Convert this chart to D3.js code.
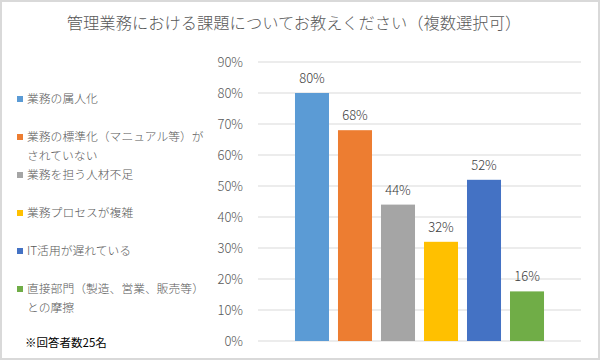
<!DOCTYPE html>
<html><head><meta charset="utf-8">
<script src="https://cdn.jsdelivr.net/npm/d3@7"></script>
<style>body{margin:0;background:#fff}svg{display:block}</style>
</head><body>
<svg id="c" width="600" height="360"></svg>
<script>
const title = "管理業務における課題についてお教えください（複数選択可）";
const categories = ["業務の属人化","業務の標準化（マニュアル等）がされていない","業務を担う人材不足","業務プロセスが複雑","IT活用が遅れている","直接部門（製造、営業、販売等）との摩擦"];
const legendLines = [["業務の属人化"],["業務の標準化（マニュアル等）が","されていない"],["業務を担う人材不足"],["業務プロセスが複雑"],["IT活用が遅れている"],["直接部門（製造、営業、販売等）","との摩擦"]];
const values = [80,68,44,32,52,16];
const colors = ["#5B9BD5","#ED7D31","#A5A5A5","#FFC000","#4472C4","#70AD47"];
const yTicks = [0,10,20,30,40,50,60,70,80,90];
const note = "※回答者数25名";

const font = "'Noto Sans CJK JP','Noto Sans',sans-serif";
const svg = d3.select("#c");
svg.append("rect").attr("x",1).attr("y",1).attr("width",598).attr("height",358)
  .attr("fill","#fff").attr("stroke","#d9d9d9").attr("stroke-width",2);

svg.append("text").attr("x",294).attr("y",29).attr("text-anchor","middle")
  .attr("font-family",font).attr("font-weight",300).attr("font-size",16.3).attr("fill","#595959").text(title);

const x = d3.scaleBand().domain(categories).range([258,581]).paddingInner(0.209).paddingOuter(0.86);
const y = d3.scaleLinear().domain([0,90]).range([341,62]);

const g = svg.append("g");
g.selectAll("line.grid").data(yTicks).join("line").attr("class","grid")
  .attr("x1",258).attr("x2",581).attr("y1",d=>y(d)).attr("y2",d=>y(d))
  .attr("stroke","#d9d9d9").attr("stroke-width",1);

const ax = g.append("g").attr("transform","translate(258,0)")
  .call(d3.axisLeft(y).tickValues(yTicks).tickFormat(d=>d+"%").tickSize(0).tickPadding(15));
ax.select(".domain").remove();
ax.selectAll("text").attr("font-family",font).attr("font-weight",300).attr("font-size",13).attr("fill","#595959");

g.selectAll("rect.bar").data(values).join("rect").attr("class","bar")
  .attr("x",(d,i)=>x(categories[i])).attr("width",x.bandwidth())
  .attr("y",d=>y(d)).attr("height",d=>y(0)-y(d)).attr("fill",(d,i)=>colors[i]);

g.selectAll("text.lbl").data(values).join("text").attr("class","lbl")
  .attr("x",(d,i)=>x(categories[i])+x.bandwidth()/2).attr("y",d=>y(d)-10)
  .attr("text-anchor","middle").attr("font-family",font).attr("font-weight",300).attr("font-size",13).attr("fill","#404040")
  .text(d=>d+"%");

const legY = [99,137,175,213,251,289];
const lg = svg.append("g");
legendLines.forEach((lines,i)=>{
  lg.append("rect").attr("x",17).attr("y",legY[i]-3).attr("width",6).attr("height",6).attr("fill",colors[i]);
  lines.forEach((t,j)=>{
    lg.append("text").attr("x",27).attr("y",legY[i]+j*19).attr("dy","0.35em")
      .attr("font-family",font).attr("font-weight",300).attr("font-size",11.8).attr("fill","#595959").text(t);
  });
});
svg.append("text").attr("x",25).attr("y",343).attr("dy","0.35em")
  .attr("font-family",font).attr("font-size",11.5).attr("fill","#000").text(note);
</script>
</body></html>
